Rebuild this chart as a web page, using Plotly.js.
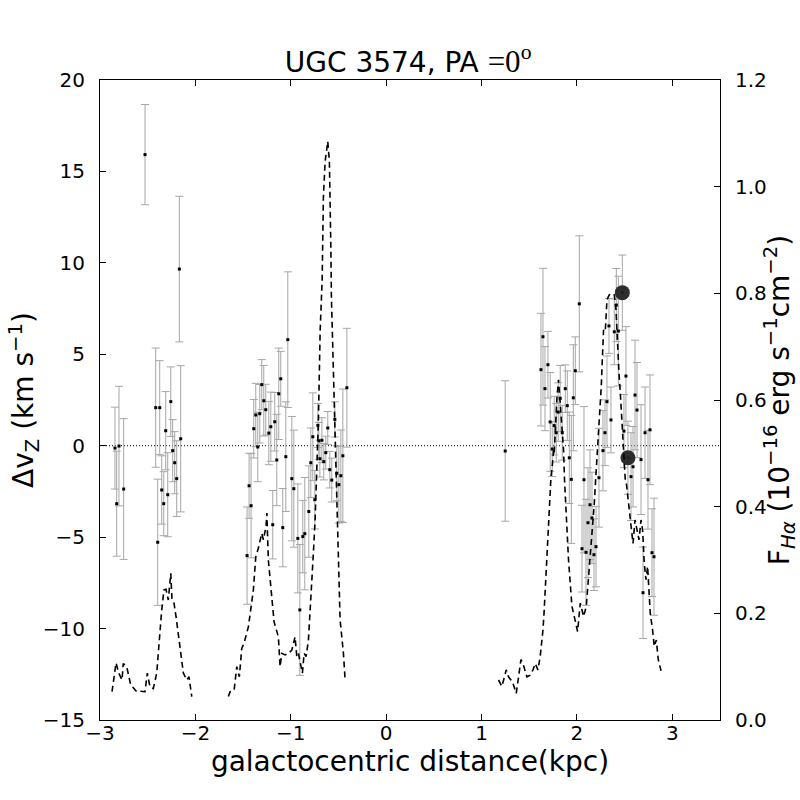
<!DOCTYPE html>
<html>
<head>
<meta charset="utf-8">
<script src="https://cdn.plot.ly/plotly-3.0.1.min.js"></script>
<style>html,body{margin:0;padding:0;background:#fff;}#chart{width:800px;height:800px;}</style>
</head>
<body>
<div id="chart"></div>
<script>
// Velocity residuals (left axis) with errors
const xPts = [
 -2.843,-2.825,-2.801,-2.752,
 -2.528,-2.416,-2.395,-2.374,-2.353,-2.332,-2.311,-2.290,-2.258,-2.238,-2.217,-2.196,-2.168,-2.154,
 -1.458,-1.437,-1.416,-1.388,-1.367,-1.346,-1.325,-1.304,-1.283,-1.262,-1.230,-1.209,-1.189,-1.168,-1.147,-1.126,-1.105,-1.084,-1.052,-1.031,
 -0.989,-0.968,-0.926,-0.905,-0.874,-0.853,-0.811,-0.790,-0.769,-0.748,-0.716,-0.706,-0.695,-0.674,-0.654,-0.633,-0.612,-0.591,-0.570,-0.538,-0.517,-0.496,-0.475,-0.454,-0.412,
 1.248,
 1.623,1.644,1.665,1.696,1.720,1.741,1.762,1.783,1.804,1.825,1.846,1.878,1.899,1.920,1.941,1.962,1.983,2.025,
 2.053,2.074,2.095,2.116,2.137,2.158,2.179,2.200,2.231,2.273,2.294,2.315,2.336,2.357,2.392,2.413,2.434,2.476,
 2.493,2.514,2.535,2.567,2.588,2.609,2.630,2.672,2.693,2.714,2.745,2.766,2.787,2.808
];
const vPts = [
 -0.13,-3.17,-0.02,-2.37,
 15.92,2.08,-5.28,2.08,-2.42,-3.17,0.82,-2.68,2.41,-0.27,-0.93,-1.80,9.66,0.38,
 -6.01,-2.19,-3.28,0.93,1.68,-0.07,1.75,3.34,2.46,1.97,0.69,1.04,-4.32,1.31,-0.78,2.84,3.66,-4.48,-0.60,5.80,
 -1.80,-2.35,-5.07,-8.98,-4.97,-4.81,-3.60,-0.93,0.49,-2.95,1.11,0.27,-0.71,0.30,-0.87,-0.38,0.97,-1.31,-1.88,1.44,-1.51,-2.13,-1.64,-0.55,3.17,
 -0.29,
 4.16,5.96,3.12,4.43,1.30,-0.18,1.10,0.71,1.84,2.59,0.71,3.12,2.19,-0.66,-1.84,2.62,4.10,7.76,
 -5.63,-1.86,-5.83,-4.21,-3.23,-3.95,-5.96,-5.52,-1.75,-0.27,0.71,2.41,6.55,1.41,6.23,7.69,6.27,8.37,
 0.80,3.81,-0.66,-1.69,-1.15,2.77,1.95,-0.76,-8.04,0.71,-1.86,0.87,-5.85,-6.07
];
const ePts = [
 2.24,2.87,3.27,3.85,
 2.74,3.26,3.45,2.57,1.87,1.75,2.14,2.30,1.90,1.70,1.70,2.07,3.98,4.00,
 2.66,1.78,2.85,1.60,1.73,1.90,1.60,1.37,1.93,1.39,1.73,1.89,1.87,1.60,2.50,2.50,1.50,2.14,3.00,3.71,
 3.40,3.20,2.98,3.58,1.98,3.07,2.50,1.90,2.40,1.60,1.20,1.00,1.00,1.23,1.00,0.90,0.90,1.00,1.20,0.96,1.50,2.10,2.50,3.65,3.25,
 3.84,
 3.08,3.74,2.30,1.82,2.70,1.50,1.60,1.60,1.60,1.80,1.50,1.30,1.90,2.50,3.50,2.90,1.85,3.72,
 2.37,4.00,2.90,3.00,3.00,2.50,1.96,2.20,2.70,2.20,1.80,2.50,1.50,1.80,1.80,2.00,3.00,2.06,
 2.00,2.70,2.00,2.40,2.20,3.00,2.60,3.00,2.50,2.50,2.70,3.00,2.40,3.20
];

// Halpha flux profile (right axis); null separates the segments
const xFlux = [
 -2.874,-2.853,-2.832,-2.804,-2.769,-2.756,-2.720,-2.678,-2.615,-2.580,-2.528,-2.504,-2.476,-2.441,-2.405,-2.389,-2.371,-2.353,-2.329,-2.308,-2.284,-2.258,-2.245,-2.224,-2.203,-2.179,-2.154,-2.126,-2.091,-2.067,-2.038,
 null,
 -1.654,-1.636,-1.594,-1.566,-1.539,-1.514,-1.490,-1.469,-1.444,-1.416,-1.392,-1.367,-1.340,-1.304,-1.287,-1.259,-1.251,-1.235,-1.209,-1.189,-1.175,-1.130,-1.112,-1.094,-1.059,-1.025,-0.989,-0.955,-0.937,-0.920,-0.902,-0.878,-0.860,-0.839,-0.815,-0.797,-0.779,-0.763,-0.745,-0.727,-0.710,-0.700,-0.692,-0.671,-0.664,-0.658,-0.640,-0.612,-0.595,-0.587,-0.580,-0.574,-0.566,-0.553,-0.535,-0.524,-0.517,-0.511,-0.496,-0.483,-0.448,-0.430,
 null,
 1.178,1.214,1.259,1.283,1.308,1.329,1.364,1.388,1.413,1.434,1.476,1.511,1.539,1.563,1.591,1.615,1.633,1.644,1.657,1.668,1.678,1.692,1.703,1.713,1.728,1.744,1.755,1.762,1.773,1.791,1.807,1.825,1.836,1.860,1.870,1.881,1.896,1.912,1.930,1.948,1.972,2.007,2.035,2.070,2.098,2.112,2.133,2.147,2.161,2.182,2.196,2.210,2.227,2.245,2.255,2.266,2.279,2.297,2.315,2.339,2.368,2.392,2.410,2.420,2.431,2.441,2.455,2.465,2.479,2.489,2.507,2.518,2.542,2.560,2.588,2.609,2.630,2.651,2.672,2.689,2.706,2.724,2.741,2.756,2.769,2.793,2.811,2.832,2.853,2.882
];
const fFlux = [
 0.053,0.081,0.107,0.088,0.075,0.106,0.100,0.066,0.053,0.054,0.053,0.088,0.062,0.059,0.088,0.125,0.175,0.206,0.244,0.245,0.225,0.275,0.225,0.219,0.194,0.159,0.125,0.088,0.075,0.081,0.044,
 null,
 0.044,0.053,0.056,0.100,0.081,0.134,0.144,0.156,0.175,0.212,0.244,0.306,0.322,0.350,0.338,0.363,0.388,0.300,0.250,0.213,0.184,0.156,0.100,0.125,0.122,0.125,0.131,0.156,0.119,0.125,0.106,0.088,0.125,0.119,0.150,0.200,0.250,0.313,0.375,0.469,0.563,0.656,0.730,0.825,0.919,0.980,1.047,1.085,1.047,0.980,0.888,0.794,0.738,0.625,0.531,0.469,0.419,0.344,0.250,0.188,0.125,0.075,
 null,
 0.075,0.063,0.094,0.081,0.075,0.069,0.050,0.081,0.113,0.106,0.081,0.084,0.094,0.106,0.094,0.119,0.144,0.169,0.206,0.244,0.294,0.331,0.381,0.419,0.456,0.481,0.506,0.500,0.550,0.606,0.638,0.594,0.569,0.506,0.450,0.406,0.356,0.300,0.256,0.213,0.194,0.166,0.219,0.194,0.213,0.244,0.288,0.319,0.363,0.406,0.450,0.488,0.538,0.588,0.625,0.675,0.731,0.728,0.788,0.797,0.800,0.797,0.769,0.731,0.681,0.650,0.613,0.581,0.531,0.494,0.450,0.444,0.406,0.381,0.331,0.375,0.356,0.338,0.375,0.356,0.294,0.263,0.288,0.244,0.200,0.169,0.138,0.150,0.113,0.092
];

// Highlighted points (left axis)
const xMark = [2.476, 2.535];
const vMark = [8.37, -0.66];

// Tick labels
const xTickVals = [-3,-2,-1,0,1,2,3];
const xTickText = ['\u22123','\u22122','\u22121','0','1','2','3'];
const yTickVals = [-15,-10,-5,0,5,10,15,20];
const yTickText = ['\u221215','\u221210','\u22125','0','5','10','15','20'];
const y2TickVals = [0,0.2,0.4,0.6,0.8,1.0,1.2];
const y2TickText = ['0.0','0.2','0.4','0.6','0.8','1.0','1.2'];

const FONT = 'DejaVu Sans, sans-serif';

const traces = [
 {
  x: xPts, y: vPts, type: 'scatter', mode: 'markers', yaxis: 'y', xaxis: 'x',
  marker: {color: 'black', size: 3, symbol: 'square'},
  error_y: {type: 'data', array: ePts, visible: true, color: '#a6a6a6', thickness: 1, width: 4},
  showlegend: false, hoverinfo: 'skip'
 },
 {
  x: xFlux, y: fFlux, type: 'scatter', mode: 'lines', yaxis: 'y2', xaxis: 'x',
  line: {color: 'black', width: 1.6, dash: '6px,4px'},
  connectgaps: false, showlegend: false, hoverinfo: 'skip'
 },
 {
  x: xMark, y: vMark, type: 'scatter', mode: 'markers', yaxis: 'y', xaxis: 'x',
  marker: {color: 'rgba(35,35,35,0.95)', size: 15, line: {width: 0}},
  showlegend: false, hoverinfo: 'skip'
 }
];

const layout = {
 width: 800, height: 800,
 margin: {l: 100, r: 80, t: 80, b: 80, pad: 0},
 paper_bgcolor: 'white', plot_bgcolor: 'white',
 font: {family: FONT, color: 'black', size: 20},
 title: {
  text: 'UGC 3574, PA <span style="font-family:Liberation Serif;font-size:31px">=0<sup>o</sup></span>',
  font: {family: FONT, size: 28, color: 'black'},
  x: 0.497, xanchor: 'center', xref: 'paper',
  y: 0.922, yanchor: 'middle', yref: 'container'
 },
 xaxis: {
  range: [-3, 3.5], tickmode: 'array', tickvals: xTickVals, ticktext: xTickText,
  ticks: 'inside', ticklen: 6, tickwidth: 1, tickcolor: 'black',
  showline: true, linecolor: 'black', linewidth: 1, mirror: 'ticks',
  showgrid: false, zeroline: false,
  tickfont: {size: 20, family: FONT}, ticklabelstandoff: -5,
  title: {text: 'galactocentric distance(kpc)', font: {size: 28, family: FONT}, standoff: 0},
  automargin: false
 },
 yaxis: {
  range: [-15, 20], tickmode: 'array', tickvals: yTickVals, ticktext: yTickText,
  ticks: 'inside', ticklen: 6, tickwidth: 1, tickcolor: 'black',
  showline: true, linecolor: 'black', linewidth: 1,
  showgrid: false, zeroline: false,
  tickfont: {size: 20, family: FONT}, ticklabelstandoff: 10,
  title: {text: '\u0394v<sub>Z</sub> (km s<sup>\u22121</sup>)', font: {size: 28, family: FONT}, standoff: 0},
  automargin: false
 },
 yaxis2: {
  range: [0, 1.2], overlaying: 'y', side: 'right', anchor: 'x',
  tickmode: 'array', tickvals: y2TickVals, ticktext: y2TickText,
  ticks: 'inside', ticklen: 6, tickwidth: 1, tickcolor: 'black',
  showline: true, linecolor: 'black', linewidth: 1,
  showgrid: false, zeroline: false,
  tickfont: {size: 20, family: FONT}, ticklabelstandoff: 10,
  title: {text: 'F<sub><i>H\u03b1</i></sub> (10<sup>\u221216</sup> erg s<sup>\u22121</sup>cm<sup>\u22122</sup>)', font: {size: 28, family: FONT}, standoff: 0},
  automargin: false
 },
 shapes: [
  {type: 'line', xref: 'paper', x0: 0, x1: 1, yref: 'y', y0: 0, y1: 0,
   line: {color: 'black', width: 1, dash: '1px,2px'}, layer: 'below'}
 ]
};

Plotly.newPlot('chart', traces, layout, {staticPlot: true, displayModeBar: false});
</script>
</body>
</html>
